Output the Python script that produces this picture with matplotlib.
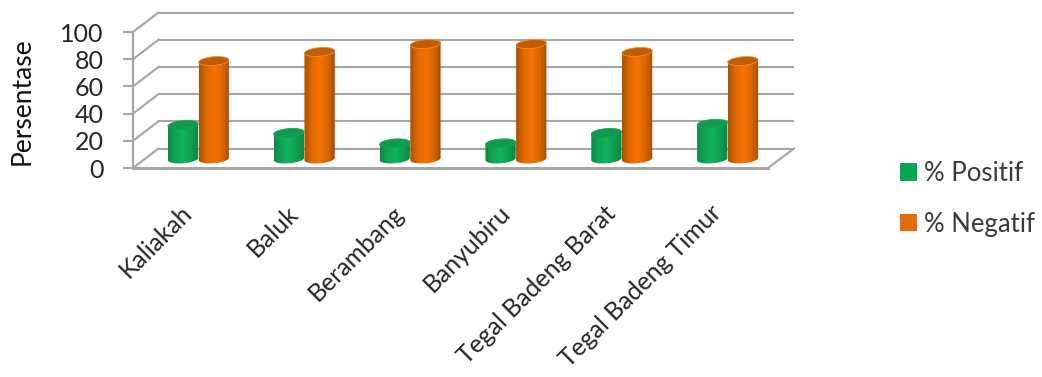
import numpy as np
import matplotlib
matplotlib.use("Agg")
import matplotlib.pyplot as plt
from matplotlib.colors import LinearSegmentedColormap
from matplotlib.patches import Patch, Polygon
from matplotlib.transforms import Affine2D, ScaledTranslation

categories = ["Kaliakah", "Baluk", "Berambang", "Banyubiru", "Tegal Badeng Barat", "Tegal Badeng Timur"]
positif = [26, 20, 12, 12, 20, 27]
negatif = [75, 82, 88, 88, 82, 75]
y_ticks = [0, 20, 40, 60, 80, 100]

plt.rcParams["font.family"] = ["Lato", "DejaVu Sans"]
W, H, DPI = 1042, 377, 100
fig = plt.figure(figsize=(W / DPI, H / DPI), dpi=DPI)
# Axes span the front plane of the 3D box; the back wall is a pixel offset away.
ax = fig.add_axes([133 / W, 1 - 168 / H, 635 / W, 136 / H])
ax.set_xlim(-0.5, 5.5)
ax.set_ylim(0, 100)

GRID = "#a6a6a6"
to_back = ax.transData + Affine2D().translate(25.5, 19.5)
for s in ("top", "right", "bottom"):
    ax.spines[s].set_visible(False)
ax.spines["left"].set_color(GRID)
ax.spines["left"].set_linewidth(1.6)
ax.patch.set_alpha(0)

# Back wall gridlines and the slanted side-wall lines
for v in y_ticks:
    ax.plot([-0.5, 5.5], [v, v], color=GRID, lw=1.5, transform=to_back, clip_on=False, zorder=1)
    ax.plot([0, 25.5], [0, 19.5], color=GRID, lw=1.5, clip_on=False, zorder=1,
            transform=Affine2D().translate(*ax.transData.transform((-0.5, v))))
# Floor edges
ax.plot([-0.5, 5.5], [0, 0], color=GRID, lw=2.2, clip_on=False, zorder=1)
ax.plot([0, 26], [0, 19.5], color=GRID, lw=1.5, clip_on=False, zorder=1,
        transform=Affine2D().translate(*ax.transData.transform((5.5, 0))))

# Cylinders stand mid-way through the depth of the box
bar_tf = Affine2D().scale(1, 0.96) + ax.transData + Affine2D().translate(12.5, 9.0)
HALF_W = 0.143
ELL_H = 3.3
TILT = 0.9
t = np.linspace(0, np.pi, 40)

green_map = LinearSegmentedColormap.from_list("g", ["#0b8a45", "#10a656", "#13b35f", "#0f9e50", "#0a8442"])
orange_map = LinearSegmentedColormap.from_list("o", ["#a95000", "#e06a02", "#f57302", "#dd6700", "#a54e00"])
gradient = np.linspace(0, 1, 64).reshape(1, -1)


def cylinder(xc, value, cmap, top_color, rim):
    xs = xc + HALF_W * np.cos(t)
    low = -ELL_H * np.sin(t) + TILT * np.cos(t)
    up = value + TILT * np.cos(t)
    outline = np.column_stack([np.r_[xs, xs[::-1]], np.r_[up, low[::-1]]])
    clip = Polygon(outline, closed=True, transform=bar_tf)
    im = ax.imshow(gradient, cmap=cmap, extent=(xc - HALF_W, xc + HALF_W, -ELL_H - 2, value + 2),
                   aspect="auto", transform=bar_tf, zorder=3)
    im.set_clip_path(clip)
    im.set_clip_box(fig.bbox)
    tt = np.linspace(0, 2 * np.pi, 80)
    cap = np.column_stack([xc + HALF_W * np.cos(tt),
                           value + ELL_H * np.sin(tt) + TILT * np.cos(tt)])
    ax.add_patch(Polygon(cap, closed=True, transform=bar_tf, facecolor=top_color,
                         edgecolor=rim, lw=0.6, clip_on=False, zorder=3.5))


for i, (p, n) in enumerate(zip(positif, negatif)):
    cylinder(i - 0.145, p, green_map, "#0f9a4e", "#12a556")
    cylinder(i + 0.145, n, orange_map, "#c25c00", "#f08a30")

ax.set_xlim(-0.5, 5.5)
ax.set_ylim(0, 100)

ax.set_yticks(y_ticks)
ax.tick_params(axis="y", length=7, width=1.5, color=GRID, labelsize=18, pad=14, labelcolor="#262626")
ax.set_xticks(range(len(categories)))
ax.set_xticklabels(categories, rotation=45, ha="right", va="top", rotation_mode="anchor", fontsize=17.8, color="#262626")
ax.tick_params(axis="x", length=0, pad=24)
shift = ScaledTranslation(-4 / 72, 0, fig.dpi_scale_trans)
for lab in ax.get_xticklabels():
    lab.set_transform(lab.get_transform() + shift)

fig.text(22 / W, 1 - 101 / H, "Persentase", rotation=90, ha="center", va="center", fontsize=19, color="#111111")

handles = [Patch(facecolor="#0aa650", label="% Positif"), Patch(facecolor="#e36c0a", label="% Negatif")]
fig.legend(handles=handles, loc="upper left", bbox_to_anchor=(877 / W, 1 - 138 / H), frameon=False,
           fontsize=18.5, labelcolor="#3a3a3a", handlelength=0.66, handleheight=0.66, handletextpad=0.27,
           labelspacing=1.0, borderpad=0.4)

fig.savefig("out.png", dpi=DPI)
